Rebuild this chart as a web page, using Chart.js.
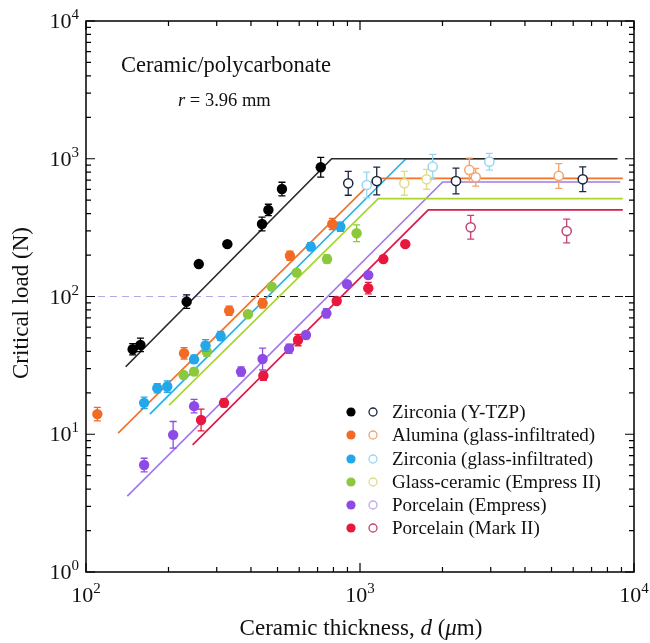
<!DOCTYPE html>
<html>
<head>
<meta charset="utf-8">
<script src="https://cdn.jsdelivr.net/npm/chart.js@4.4.1/dist/chart.umd.min.js"></script>
<style>
  html, body { margin: 0; padding: 0; background: #fff; }
</style>
</head>
<body>
<canvas id="chart" width="650" height="643"></canvas>
<script>
// axis decades (tick labels)
var xDecades = [100, 1000, 10000];
var yDecades = [1, 10, 100, 1000, 10000];

// Zirconia (Y-TZP)
var ytzpX = [148, 158, 233, 258, 328, 439, 463, 519, 719];
var ytzpY = [41.4, 44.5, 91.7, 172, 240, 336, 425, 603, 867];
var ytzpErr = [1.10, 1.12, 1.12, 1.0, 1.0, 1.12, 1.10, 1.12, 1.18];
var ytzpOpenX = [906, 1151, 2240, 6500];
var ytzpOpenY = [663, 689, 689, 709];
var ytzpOpenErr = [1.22, 1.26, 1.24, 1.23];
var ytzpLineX = [139.6, 788, 8700];
var ytzpLineY = [30.9, 1000, 1000];

// Alumina (glass-infiltrated)
var aluminaX = [110, 228, 333, 441, 555, 792];
var aluminaY = [14.0, 38.7, 78.9, 89.3, 198, 336];
var aluminaErr = [1.12, 1.10, 1.08, 1.08, 1.08, 1.10];
var aluminaOpenX = [2506, 2645, 5312];
var aluminaOpenY = [829, 733, 750];
var aluminaOpenErr = [1.22, 1.16, 1.23];
var aluminaLineX = [131, 1137, 9100];
var aluminaLineY = [10.2, 721, 721];

// Zirconia (glass-infiltrated)
var zirGlassX = [163, 182, 198, 248, 273, 310, 661, 848];
var zirGlassY = [16.9, 21.6, 22.2, 35.0, 44.2, 51.7, 230, 321];
var zirGlassErr = [1.10, 1.08, 1.10, 1.07, 1.10, 1.08, 1.07, 1.08];
var zirGlassOpenX = [1058, 1842, 2965];
var zirGlassOpenY = [645, 876, 952];
var zirGlassOpenErr = [1.24, 1.23, 1.15];
var zirGlassLineX = [171, 1472, 8700];
var zirGlassLineY = [14.0, 1000, 1000];

// Glass-ceramic (Empress II)
var glassCerX = [227, 248, 276, 390, 476, 587, 758, 972];
var glassCerY = [26.9, 28.5, 39.7, 74.3, 118, 149, 187, 288];
var glassCerErr = [1.06, 1.06, 1.08, 1.05, 1.05, 1.05, 1.07, 1.15];
var glassCerOpenX = [1452, 1750];
var glassCerOpenY = [663, 709];
var glassCerOpenErr = [1.22, 1.18];
var glassCerLineX = [201, 1166, 9100];
var glassCerLineY = [16.3, 513, 513];

// Porcelain (Empress)
var empressX = [163, 208, 248, 368, 441, 551, 635, 754, 897, 1072];
var empressY = [5.98, 9.9, 16.0, 28.5, 35.2, 41.8, 52.5, 75.5, 123, 143];
var empressErr = [1.12, 1.25, 1.12, 1.08, 1.20, 1.08, 1.06, 1.08, 1.05, 1.05];
var empressLineX = [141.5, 2003, 8900];
var empressLineY = [3.56, 678, 678];

// Porcelain (Mark II)
var markX = [263, 319, 444, 594, 822, 1072, 1217, 1463];
var markY = [12.7, 16.9, 26.6, 48.3, 92.8, 115, 187, 240];
var markErr = [1.20, 1.07, 1.08, 1.10, 1.05, 1.10, 1.05, 1.0];
var markOpenX = [2535, 5680];
var markOpenY = [318, 299];
var markOpenErr = [1.22, 1.22];
var markLineX = [245, 1775, 9100];
var markLineY = [8.36, 425, 425];

// reference level
var refLoad = 100;
var refSplitX = [100, 400, 10000];

var legendLabels = ['Zirconia (Y-TZP)', 'Alumina (glass-infiltrated)', 'Zirconia (glass-infiltrated)',
                    'Glass-ceramic (Empress II)', 'Porcelain (Empress)', 'Porcelain (Mark II)'];
var fillColors = ['#000000', '#f26a24', '#22a8ea', '#8cc83c', '#8e4ae6', '#e8173e'];
var openColors = ['#1b2740', '#f2a46e', '#9ad6f4', '#e2dc86', '#c6a4ee', '#c44278'];
var lineColors = ['#2a2a2a', '#f47328', '#2ab0e6', '#a8d62e', '#a27ae8', '#d81c4e'];

function pts(xs, ys) {
    return xs.map(function (x, i) { return { x: x, y: ys[i] }; });
}

function fitLine(xs, ys, color) {
    return { type: 'line', data: pts(xs, ys), borderColor: color, borderWidth: 1.7,
             pointRadius: 0, fill: false, tension: 0, order: 5 };
}
function filled(xs, ys, errs, color) {
    return { type: 'scatter', data: pts(xs, ys), errs: errs, backgroundColor: color,
             borderColor: color, borderWidth: 0, pointRadius: 5.2, order: 1 };
}
function open(xs, ys, errs, color) {
    return { type: 'scatter', data: pts(xs, ys), errs: errs, backgroundColor: '#ffffff',
             borderColor: color, borderWidth: 1.5, pointRadius: 4.6, order: 2 };
}

var datasets = [
    { type: 'line', data: [{ x: refSplitX[0], y: refLoad }, { x: refSplitX[1], y: refLoad }],
      borderColor: '#b9a6e2', borderWidth: 1.2, borderDash: [7, 5], pointRadius: 0, order: 6 },
    { type: 'line', data: [{ x: refSplitX[1], y: refLoad }, { x: refSplitX[2], y: refLoad }],
      borderColor: '#111111', borderWidth: 1.2, borderDash: [8, 5], pointRadius: 0, order: 6 },
    fitLine(markLineX, markLineY, lineColors[5]),
    fitLine(glassCerLineX, glassCerLineY, lineColors[3]),
    fitLine(empressLineX, empressLineY, lineColors[4]),
    fitLine(aluminaLineX, aluminaLineY, lineColors[1]),
    fitLine(ytzpLineX, ytzpLineY, lineColors[0]),
    fitLine(zirGlassLineX, zirGlassLineY, lineColors[2]),
    open(ytzpOpenX, ytzpOpenY, ytzpOpenErr, openColors[0]),
    open(aluminaOpenX, aluminaOpenY, aluminaOpenErr, openColors[1]),
    open(zirGlassOpenX, zirGlassOpenY, zirGlassOpenErr, openColors[2]),
    open(glassCerOpenX, glassCerOpenY, glassCerOpenErr, openColors[3]),
    open(markOpenX, markOpenY, markOpenErr, openColors[5]),
    filled(ytzpX, ytzpY, ytzpErr, fillColors[0]),
    filled(aluminaX, aluminaY, aluminaErr, fillColors[1]),
    filled(zirGlassX, zirGlassY, zirGlassErr, fillColors[2]),
    filled(glassCerX, glassCerY, glassCerErr, fillColors[3]),
    filled(empressX, empressY, empressErr, fillColors[4]),
    filled(markX, markY, markErr, fillColors[5])
];

var SERIF = '"Liberation Serif", "DejaVu Serif", serif';

// error bars, drawn under each point set
var errorBars = {
    id: 'errorBars',
    beforeDatasetDraw: function (chart, args) {
        var ds = chart.data.datasets[args.index];
        if (!ds.errs) return;
        var ctx = chart.ctx, xs = chart.scales.x, ys = chart.scales.y;
        ctx.save();
        ctx.strokeStyle = ds.borderColor;
        ctx.lineWidth = 1.3;
        ds.data.forEach(function (p, i) {
            var e = ds.errs[i];
            if (!e || e <= 1) return;
            var px = xs.getPixelForValue(p.x);
            var top = ys.getPixelForValue(p.y * e);
            var bot = ys.getPixelForValue(p.y / e);
            ctx.beginPath();
            ctx.moveTo(px, top); ctx.lineTo(px, bot);
            ctx.moveTo(px - 3.5, top); ctx.lineTo(px + 3.5, top);
            ctx.moveTo(px - 3.5, bot); ctx.lineTo(px + 3.5, bot);
            ctx.stroke();
        });
        ctx.restore();
    }
};

function powerLabel(ctx, exp, x, y, align) {
    ctx.font = '22px ' + SERIF;
    var w1 = ctx.measureText('10').width;
    ctx.font = '15px ' + SERIF;
    var w2 = ctx.measureText(String(exp)).width;
    var start = align === 'right' ? x - w1 - w2 : x - (w1 + w2) / 2;
    ctx.textAlign = 'left';
    ctx.textBaseline = 'alphabetic';
    ctx.font = '22px ' + SERIF;
    ctx.fillText('10', start, y);
    ctx.font = '15px ' + SERIF;
    ctx.fillText(String(exp), start + w1, y - 9);
}

// frame, inward ticks, tick labels, titles, notes and legend
var decorations = {
    id: 'decorations',
    afterDraw: function (chart) {
        var ctx = chart.ctx, a = chart.chartArea;
        var xs = chart.scales.x, ys = chart.scales.y;
        ctx.save();
        ctx.strokeStyle = '#000';
        ctx.lineWidth = 1.5;
        ctx.strokeRect(a.left, a.top, a.right - a.left, a.bottom - a.top);

        ctx.lineWidth = 1.2;
        ctx.beginPath();
        xDecades.forEach(function (d, di) {
            for (var k = 1; k <= 9; k++) {
                if (di === xDecades.length - 1 && k > 1) break;
                var px = xs.getPixelForValue(d * k);
                var len = k === 1 ? 9 : 5;
                ctx.moveTo(px, a.bottom); ctx.lineTo(px, a.bottom - len);
                ctx.moveTo(px, a.top); ctx.lineTo(px, a.top + len);
            }
        });
        yDecades.forEach(function (d, di) {
            for (var k = 1; k <= 9; k++) {
                if (di === yDecades.length - 1 && k > 1) break;
                var py = ys.getPixelForValue(d * k);
                var len = k === 1 ? 9 : 5;
                ctx.moveTo(a.left, py); ctx.lineTo(a.left + len, py);
                ctx.moveTo(a.right, py); ctx.lineTo(a.right - len, py);
            }
        });
        ctx.stroke();

        ctx.fillStyle = '#111';
        xDecades.forEach(function (d) {
            powerLabel(ctx, Math.round(Math.log10(d)), xs.getPixelForValue(d), 602, 'center');
        });
        yDecades.forEach(function (d) {
            powerLabel(ctx, Math.round(Math.log10(d)), a.left - 7, ys.getPixelForValue(d) + 7, 'right');
        });

        // axis titles
        ctx.font = '23px ' + SERIF;
        ctx.textAlign = 'center';
        ctx.textBaseline = 'middle';
        ctx.save();
        ctx.translate(22, 303);
        ctx.rotate(-Math.PI / 2);
        ctx.fillText('Critical load (N)', 0, 0);
        ctx.restore();

        var parts = [['Ceramic thickness, ', ''], ['d', 'italic '], [' (', ''], ['\u03bc', 'italic '], ['m)', '']];
        var total = 0;
        parts.forEach(function (p) { ctx.font = p[1] + '23px ' + SERIF; total += ctx.measureText(p[0]).width; });
        var cx = 361 - total / 2;
        ctx.textAlign = 'left';
        ctx.textBaseline = 'alphabetic';
        parts.forEach(function (p) {
            ctx.font = p[1] + '23px ' + SERIF;
            ctx.fillText(p[0], cx, 635);
            cx += ctx.measureText(p[0]).width;
        });

        // notes
        ctx.font = '22.5px ' + SERIF;
        ctx.fillText('Ceramic/polycarbonate', 121, 72);
        ctx.font = 'italic 18.5px ' + SERIF;
        ctx.fillText('r', 178, 106);
        var rw = ctx.measureText('r').width;
        ctx.font = '18.5px ' + SERIF;
        ctx.fillText(' = 3.96 mm', 178 + rw, 106);

        // legend
        var rows = [412, 435, 459, 482, 505, 528];
        legendLabels.forEach(function (lab, i) {
            var y = rows[i];
            ctx.beginPath();
            ctx.fillStyle = fillColors[i];
            ctx.arc(351, y, 4.6, 0, Math.PI * 2);
            ctx.fill();
            ctx.beginPath();
            ctx.strokeStyle = openColors[i];
            ctx.lineWidth = 1.3;
            ctx.arc(373, y, 4, 0, Math.PI * 2);
            ctx.stroke();
            ctx.fillStyle = '#111';
            ctx.font = '19px ' + SERIF;
            ctx.textBaseline = 'middle';
            ctx.fillText(lab, 392, y + 1);
        });
        ctx.restore();
    }
};

new Chart(document.getElementById('chart'), {
    type: 'scatter',
    data: { datasets: datasets },
    options: {
        responsive: false,
        animation: false,
        layout: { padding: { left: 86, top: 21, right: 16, bottom: 71 } },
        plugins: { legend: { display: false }, tooltip: { enabled: false } },
        scales: {
            x: {
                type: 'logarithmic', min: 100, max: 10000,
                grid: { display: false, drawTicks: false }, border: { display: false },
                ticks: { display: false },
                afterFit: function (s) { s.height = 0; }
            },
            y: {
                type: 'logarithmic', min: 1, max: 10000,
                grid: { display: false, drawTicks: false }, border: { display: false },
                ticks: { display: false },
                afterFit: function (s) { s.width = 0; }
            }
        }
    },
    plugins: [errorBars, decorations]
});
</script>
</body>
</html>
